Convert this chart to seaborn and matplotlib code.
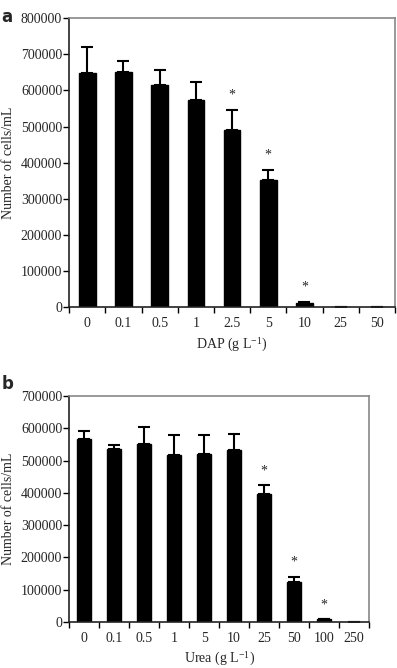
import numpy as np
import pandas as pd
import matplotlib
matplotlib.use("Agg")
import matplotlib.pyplot as plt
import seaborn as sns

# panel a: DAP
dap_conc = ['0', '0.1', '0.5', '1', '2.5', '5', '10', '25', '50']
dap_cells = [647000, 651000, 616000, 572000, 491000, 352000, 12000, 1000, 1000]
dap_err = [73000, 29000, 39000, 52000, 55000, 28000, 3000, 0, 0]
dap_sig = [False, False, False, False, True, True, True, False, False]

# panel b: Urea
urea_conc = ['0', '0.1', '0.5', '1', '5', '10', '25', '50', '100', '250']
urea_cells = [566000, 537000, 552000, 516000, 522000, 532000, 396000, 123000, 8000, 1000]
urea_err = [26000, 13000, 53000, 62000, 56000, 50000, 28000, 16000, 0, 0]
urea_sig = [False, False, False, False, False, False, True, True, True, False]

sns.set_style("white")
plt.rcParams['font.family'] = ['Liberation Serif', 'DejaVu Serif']
plt.rcParams['mathtext.fontset'] = 'stix'

fig = plt.figure(figsize=(3.97, 6.68), dpi=100)
ax1 = fig.add_axes([0.174, 0.540, 0.821, 0.433])
ax2 = fig.add_axes([0.174, 0.069, 0.756, 0.338])


def draw(ax, conc, cells, err, sig, ymax, xlabel, width, star_off):
    df = pd.DataFrame({'conc': conc, 'cells': cells})
    sns.barplot(data=df, x='conc', y='cells', color='black', width=width,
                ax=ax, saturation=1, edgecolor='black')
    x = np.arange(len(conc))
    ax.errorbar(x, cells, yerr=[np.zeros(len(err)), err], fmt='none',
                ecolor='black', elinewidth=1.5, capsize=4, capthick=1.5)
    for xi, c, e, s in zip(x, cells, err, sig):
        if s:
            ax.text(xi, c + e + star_off, '*', ha='center', va='bottom',
                    fontsize=10)
    ax.set_xlim(-0.5, len(conc) - 0.5)
    ax.set_ylim(0, ymax)
    ax.set_yticks(np.arange(0, ymax + 1, 100000))
    ax.set_yticklabels([str(v) for v in range(0, ymax + 1, 100000)], fontsize=10)
    # ticks at category boundaries, labels at centres
    ax.set_xticks(np.arange(-0.5, len(conc)), labels=[''] * (len(conc) + 1))
    ax.set_xticks(x, labels=conc, minor=True, fontsize=10)
    ax.tick_params(axis='x', which='major', direction='out', length=4,
                   width=1, color='black', bottom=True)
    ax.tick_params(axis='x', which='minor', length=0, pad=7)
    ax.tick_params(axis='y', direction='out', length=4, width=1,
                   color='black', left=True, pad=1)
    ax.set_xlabel(xlabel, fontsize=10, labelpad=4)
    ax.set_ylabel('Number of cells/mL', fontsize=10, labelpad=4)
    for side in ['left', 'bottom']:
        ax.spines[side].set_color('#222222')
        ax.spines[side].set_linewidth(1.2)
    for side in ['top', 'right']:
        ax.spines[side].set_color('#888888')
        ax.spines[side].set_linewidth(1.2)


draw(ax1, dap_conc, dap_cells, dap_err, dap_sig, 800000,
     'DAP (g L$^{\\mathregular{-1}}$)', 0.46, 22000)
draw(ax2, urea_conc, urea_cells, urea_err, urea_sig, 700000,
     'Urea (g L$^{\\mathregular{-1}}$)', 0.48, 25000)

fig.text(0.003, 0.988, 'a', fontsize=12, fontweight='bold',
         family='DejaVu Sans', va='top')
fig.text(0.003, 0.438, 'b', fontsize=12, fontweight='bold',
         family='DejaVu Sans', va='top')

fig.savefig('out.png', dpi=100)
